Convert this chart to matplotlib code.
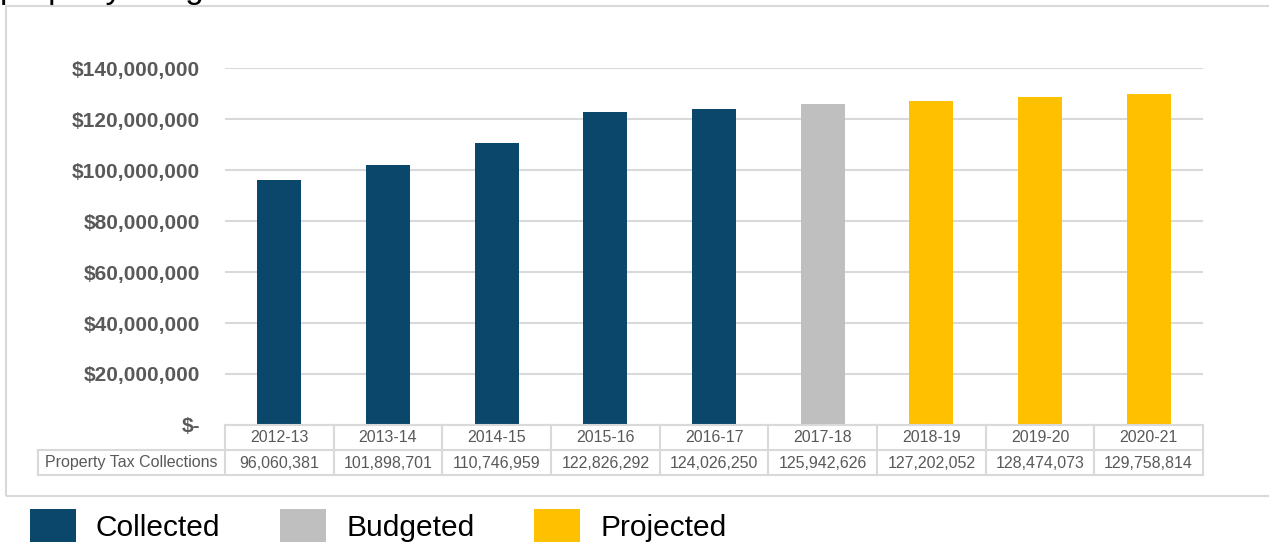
import matplotlib.pyplot as plt
import matplotlib.ticker as mticker
from matplotlib.patches import Patch, Rectangle

plt.rcParams['font.family'] = ['Liberation Sans', 'DejaVu Sans']

# fiscal years and property tax collections
years = ['2012-13', '2013-14', '2014-15', '2015-16', '2016-17',
         '2017-18', '2018-19', '2019-20', '2020-21']
collections = [96060381, 101898701, 110746959, 122826292, 124026250,
               125942626, 127202052, 128474073, 129758814]
status = ['Collected'] * 5 + ['Budgeted'] + ['Projected'] * 3

colors = {'Collected': '#0B476B', 'Budgeted': '#BFBFBF', 'Projected': '#FFC000'}
grid_gray = '#D9D9D9'
text_gray = '#595959'

W, H = 1269, 542
fig = plt.figure(figsize=(W / 100, H / 100), dpi=100)


def px_box(x0, y0, x1, y1):
    # pixel box (from top-left) -> figure fraction rect
    return [x0 / W, 1 - y1 / H, (x1 - x0) / W, (y1 - y0) / H]


# outer chart border
fig.add_artist(Rectangle((6 / W, 1 - 496 / H), (W + 10) / W, 490 / H,
                         transform=fig.transFigure, fill=False,
                         edgecolor=grid_gray, linewidth=1.5))

# title, mostly above the top edge
fig.text(0.0, 1 + 2 / H, 'property tax growth', fontsize=24, color='black',
         ha='left', va='baseline')

ax = fig.add_axes(px_box(225, 68, 1203, 425))
x = range(len(years))
ax.bar(x, collections, width=0.405, color=[colors[s] for s in status], zorder=3)
ax.set_xlim(-0.5, len(years) - 0.5)
ax.set_ylim(0, 140e6)
ax.yaxis.set_major_locator(mticker.MultipleLocator(20e6))
ax.yaxis.set_major_formatter(mticker.FuncFormatter(
    lambda v, p: '$-' if v == 0 else '${:,.0f}'.format(v)))
ax.grid(axis='y', color=grid_gray, linewidth=1.5, zorder=0)
ax.set_xticks([])
ax.tick_params(axis='y', length=0, pad=18, labelsize=15, labelcolor=text_gray)
for lab in ax.get_yticklabels():
    lab.set_fontweight('bold')
for s in ax.spines.values():
    s.set_visible(False)

# data table under the bars
label_w = (225 - 38) / (978 / len(years))
left = -0.5 - label_w
tab = fig.add_axes(px_box(38, 425, 1203, 475))
tab.set_xlim(left, len(years) - 0.5)
tab.set_ylim(2, 0)
tab.axis('off')
lw = 1.5
right = len(years) - 0.5
tab.plot([-0.5, right], [0, 0], color=grid_gray, lw=lw, clip_on=False)
for yy in (1, 2):
    tab.plot([left, right], [yy, yy], color=grid_gray, lw=lw, clip_on=False)
for k in range(len(years) + 1):
    tab.plot([k - 0.5, k - 0.5], [0, 2], color=grid_gray, lw=lw, clip_on=False)
tab.plot([left, left], [1, 2], color=grid_gray, lw=lw, clip_on=False)
for i, (yr, v) in enumerate(zip(years, collections)):
    tab.text(i, 0.5, yr, ha='center', va='center', fontsize=11.5, color=text_gray)
    tab.text(i, 1.52, '{:,}'.format(v), ha='center', va='center',
             fontsize=11.5, color=text_gray)
tab.text((left - 0.5) / 2, 1.5, 'Property Tax Collections', ha='center',
         va='center', fontsize=11.5, color=text_gray)

# legend along the bottom
handles = [Patch(facecolor=colors[k], label=k) for k in colors]
fig.legend(handles=handles, loc='center left', bbox_to_anchor=(30 / W, 1 - 526 / H),
           ncol=3, frameon=False, fontsize=21.5, handlelength=1.54, handleheight=1.4,
           handletextpad=0.67, columnspacing=2.0, borderpad=0, borderaxespad=0)

fig.savefig('out.png', dpi=100)
